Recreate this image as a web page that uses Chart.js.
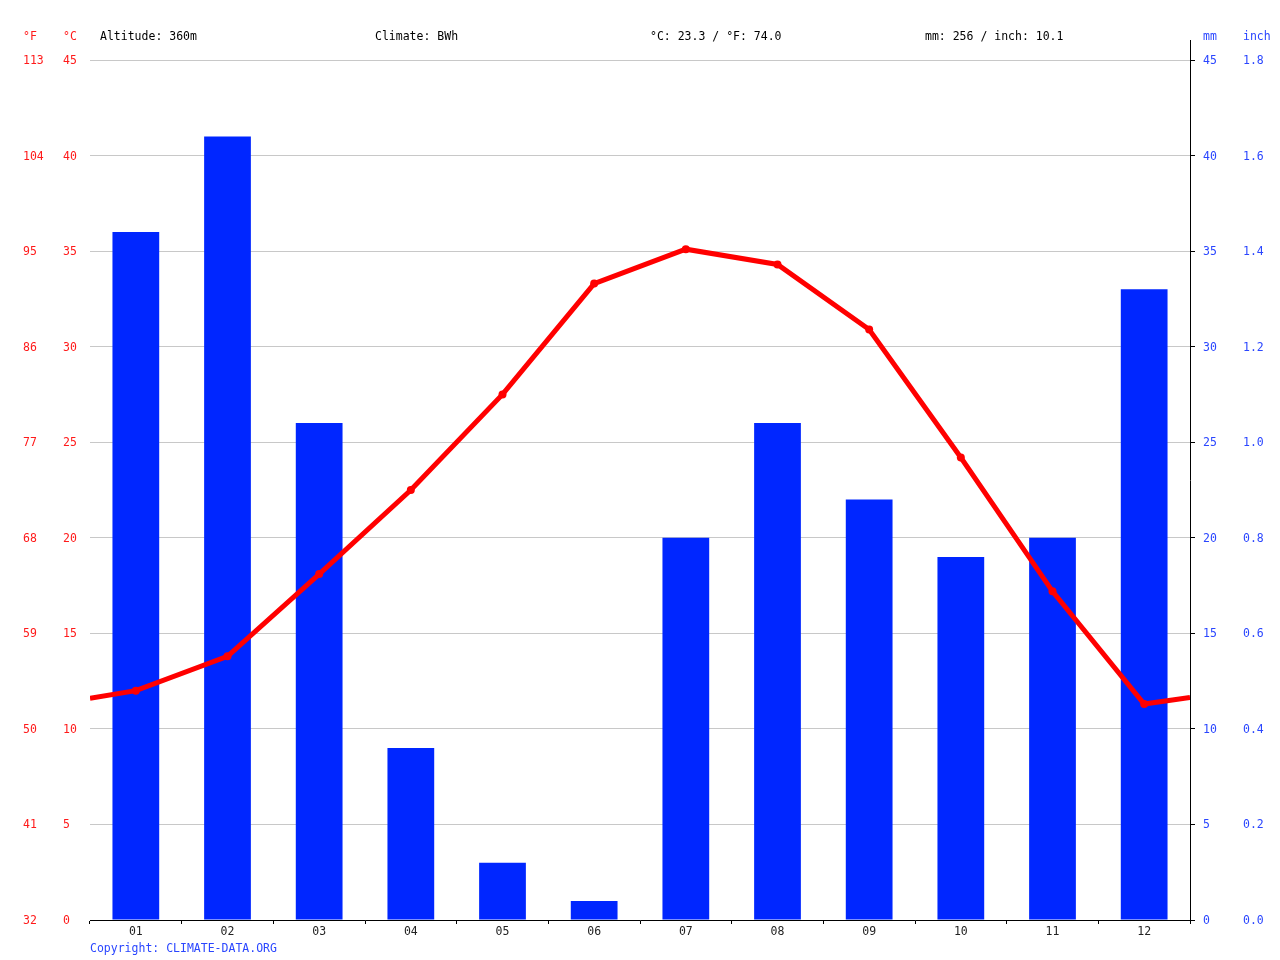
<!DOCTYPE html>
<html>
<head>
<meta charset="utf-8">
<script src="https://cdn.jsdelivr.net/npm/chart.js@4"></script>
<style>
  html, body { margin: 0; padding: 0; background: #fff; }
</style>
</head>
<body>
<canvas id="myChart" width="1280" height="960"></canvas>
<script>
const months = ['01', '02', '03', '04', '05', '06', '07', '08', '09', '10', '11', '12'];
const precipMm = [36, 41, 26, 9, 3, 1, 20, 26, 22, 19, 20, 33];
const tempC = [12.0, 13.8, 18.1, 22.5, 27.5, 33.3, 35.1, 34.3, 30.9, 24.2, 17.2, 11.3];
// value where the temperature line meets the left/right edges of the plot
const tempEdge = [11.6, 11.65];
const cTicks = [0, 5, 10, 15, 20, 25, 30, 35, 40, 45];
const fTicks = [32, 41, 50, 59, 68, 77, 86, 95, 104, 113];
const mmTicks = [0, 5, 10, 15, 20, 25, 30, 35, 40, 45];
const inchTicks = [0.0, 0.2, 0.4, 0.6, 0.8, 1.0, 1.2, 1.4, 1.6, 1.8];
const headerTexts = ['Altitude: 360m', 'Climate: BWh', '°C: 23.3 / °F: 74.0', 'mm: 256 / inch: 10.1'];

const FONT = '"DejaVu Sans Mono", monospace';
const RED = '#ff1a1a';
const BLUE = '#2a46ff';

// top of the plot sits 20px above the 45 line so the right axis rises a bit
const cMax = 45 + 20 * 45 / 860;

const lineData = [{ x: 0, y: tempEdge[0] }]
  .concat(tempC.map((t, i) => ({ x: i + 0.5, y: t })))
  .concat([{ x: 12, y: tempEdge[1] }]);
const pointSizes = lineData.map((p, i) => (i === 0 || i === lineData.length - 1) ? 0 : 4);

const useTicks = (list) => (sc) => { sc.ticks = list.map(v => ({ value: v })); };

const headerPlugin = {
  id: 'header',
  afterDraw(chart) {
    const ctx = chart.ctx;
    const s = chart.scales;
    ctx.save();
    ctx.font = '11.5px ' + FONT;
    ctx.textBaseline = 'middle';
    ctx.textAlign = 'left';
    ctx.fillStyle = RED;
    ctx.fillText('°F', s.yF.left, 37);
    ctx.fillText('°C', s.y.left, 37);
    ctx.fillStyle = BLUE;
    ctx.fillText('mm', s.yMm.left + 13, 37);
    ctx.fillText('inch', s.yIn.left, 37);
    ctx.fillStyle = '#000';
    headerTexts.forEach((t, i) => ctx.fillText(t, 100 + i * 275, 37));
    ctx.fillStyle = BLUE;
    ctx.fillText('Copyright: CLIMATE-DATA.ORG', chart.chartArea.left, 949);
    ctx.restore();
  }
};

const tickFont = { family: FONT, size: 11.5 };

new Chart(document.getElementById('myChart'), {
  data: {
    labels: months,
    datasets: [
      {
        type: 'line',
        data: lineData,
        xAxisID: 'xl',
        yAxisID: 'y',
        borderColor: '#ff0000',
        backgroundColor: '#ff0000',
        borderWidth: 5,
        pointRadius: pointSizes,
        pointHoverRadius: pointSizes,
        pointBorderWidth: 0,
        tension: 0,
        order: 0
      },
      {
        type: 'bar',
        data: precipMm,
        xAxisID: 'x',
        yAxisID: 'yMm',
        backgroundColor: '#0026ff',
        grouped: false,
        barPercentage: 0.51,
        categoryPercentage: 1,
        order: 1
      }
    ]
  },
  options: {
    responsive: false,
    animation: false,
    devicePixelRatio: 1,
    layout: { padding: { left: 23, right: 0, top: 40, bottom: 20 } },
    plugins: { legend: { display: false }, tooltip: { enabled: false } },
    scales: {
      x: {
        type: 'category',
        position: 'bottom',
        offset: true,
        grid: { offset: true, drawOnChartArea: false, tickColor: '#000', tickLength: 4 },
        border: { display: true, color: '#000' },
        ticks: { color: '#222', font: tickFont, padding: 1 },
        afterFit: (sc) => { sc.height = 20; }
      },
      xl: {
        type: 'linear',
        min: 0,
        max: 12,
        display: false
      },
      y: {
        position: 'left',
        weight: 0,
        min: 0,
        max: cMax,
        afterBuildTicks: useTicks(cTicks),
        ticks: { color: RED, crossAlign: 'far', padding: 0, labelOffset: 1, font: tickFont },
        grid: { color: '#c8c8c8', drawTicks: false },
        border: { display: false },
        afterFit: (sc) => { sc.width = 27; }
      },
      yF: {
        position: 'left',
        weight: 1,
        min: 32,
        max: cMax * 9 / 5 + 32,
        afterBuildTicks: useTicks(fTicks),
        ticks: { color: RED, crossAlign: 'far', padding: 0, labelOffset: 1, font: tickFont },
        grid: { display: false },
        border: { display: false },
        afterFit: (sc) => { sc.width = 40; }
      },
      yMm: {
        position: 'right',
        weight: 0,
        min: 0,
        max: cMax,
        afterBuildTicks: useTicks(mmTicks),
        ticks: { color: BLUE, padding: 8, labelOffset: 1, font: tickFont },
        grid: { drawOnChartArea: false, tickColor: '#000', tickLength: 5 },
        border: { display: true, color: '#000' },
        afterFit: (sc) => { sc.width = 53; }
      },
      yIn: {
        position: 'right',
        weight: 1,
        min: 0,
        max: cMax / 25,
        afterBuildTicks: useTicks(inchTicks),
        ticks: { color: BLUE, padding: 0, labelOffset: 1, font: tickFont,
          callback: (v) => v.toFixed(1) },
        grid: { display: false, drawTicks: false },
        border: { display: false },
        afterFit: (sc) => { sc.width = 37; }
      }
    }
  },
  plugins: [headerPlugin]
});
</script>
</body>
</html>
